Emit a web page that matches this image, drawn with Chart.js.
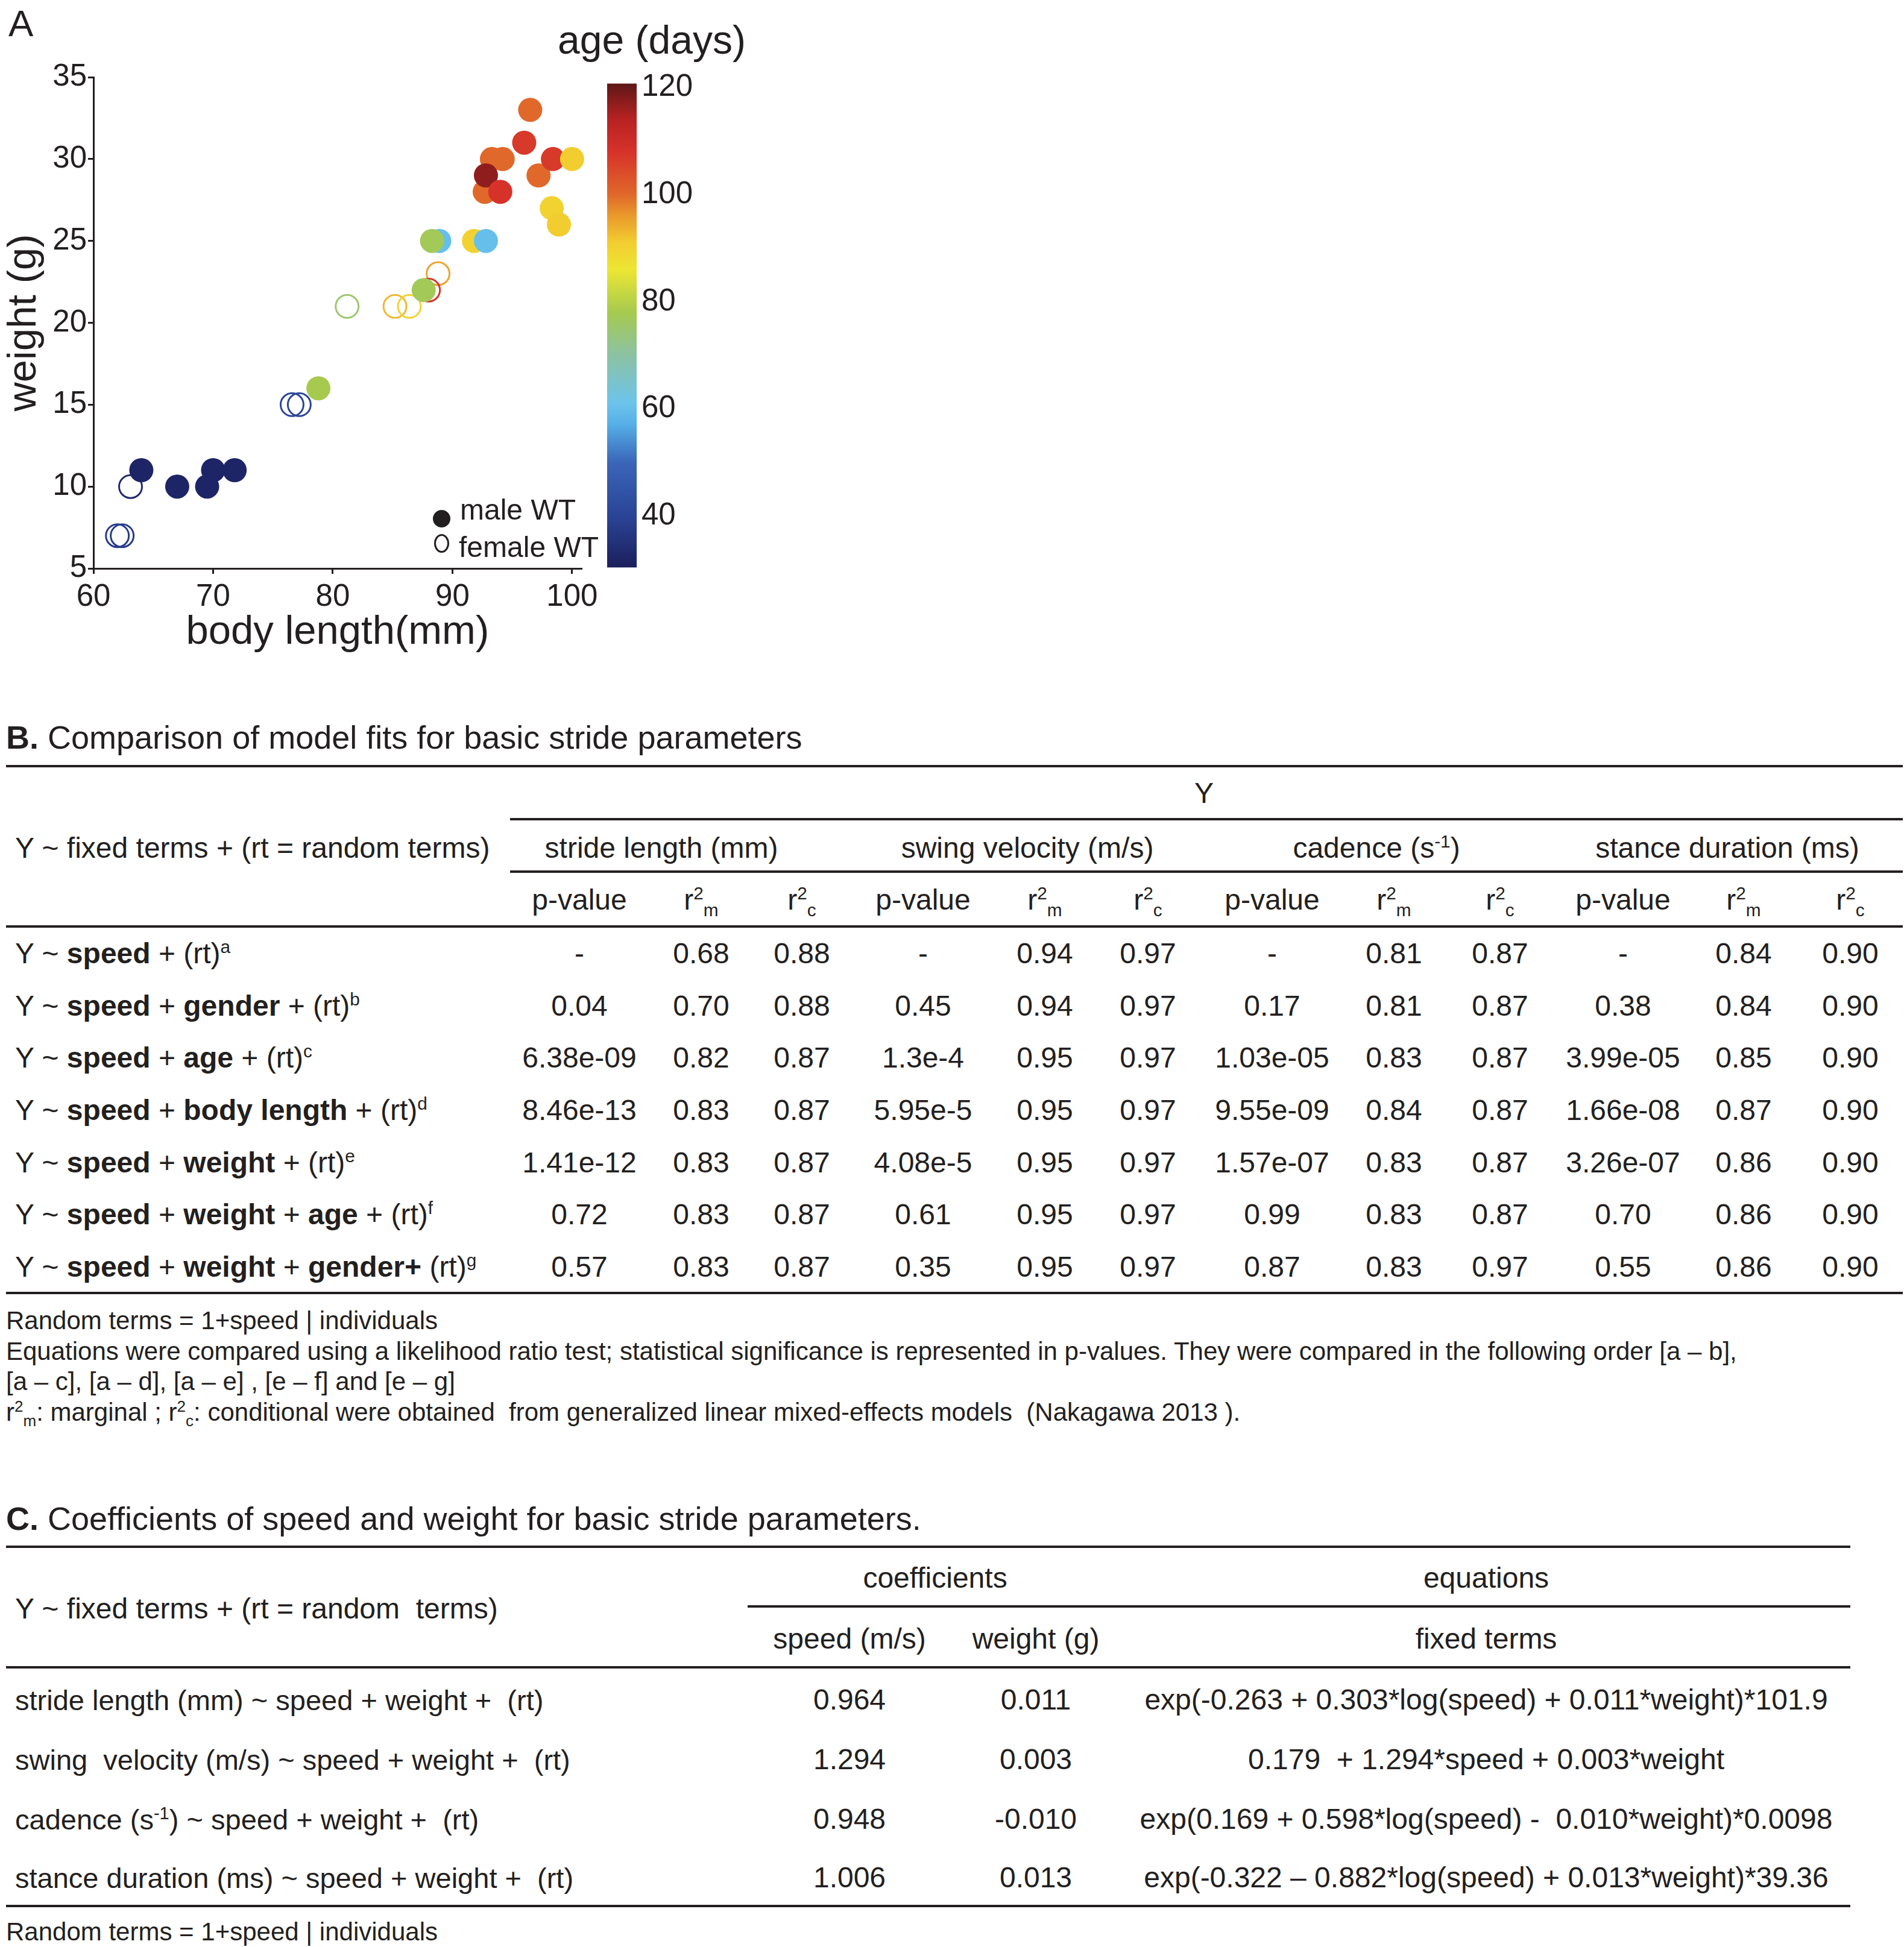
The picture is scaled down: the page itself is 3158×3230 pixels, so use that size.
<!DOCTYPE html>
<html>
<head>
<meta charset="utf-8">
<script src="https://cdn.jsdelivr.net/npm/chart.js@4.4.1/dist/chart.umd.min.js"></script>
<style>
  body { margin: 0; background: #fff; font-family: "Liberation Sans", Arial, sans-serif; color: #231f20; }
  #page { position: relative; width: 3158px; height: 3230px; overflow: hidden; }
  .abs { position: absolute; white-space: pre; line-height: 1; }
  .c { transform: translate(-50%, -50%); }
  .l { transform: translate(0, -50%); }
  .rule { position: absolute; height: 4px; background: #231f20; }
  sup, sub { font-size: 0.62em; line-height: 0; }
  canvas { position: absolute; }
</style>
</head>
<body>
<div id="page">
  <div class="abs" style="left:14px;top:8px;font-size:62px;">A</div>
  <div class="abs c" style="left:1081px;top:66px;font-size:66px;">age (days)</div>
  <canvas id="scatter" width="1000" height="1100" style="left:0;top:0"></canvas>
  <canvas id="colorbar" width="220" height="880" style="left:1000px;top:100px"></canvas>
  <div style="position:absolute;left:718px;top:846px;width:29px;height:29px;border-radius:50%;background:#231f20"></div>
  <div style="position:absolute;left:720px;top:886px;width:19px;height:25px;border-radius:50%;border:3px solid #231f20"></div>
  <div class="abs l" style="left:763px;top:846px;font-size:48px;">male WT</div>
  <div class="abs l" style="left:761px;top:908px;font-size:48px;">female WT</div>
</div>
<script>
// scatter: body length (mm), weight (g), age (days)
const maleLength = [64, 67, 69.5, 70, 71.8, 78.8, 87.6, 88.9, 88.3, 91.8, 92.8, 92.7, 93.3, 94.2, 92.8, 94, 96, 96.5, 97.2, 98.4, 100, 98.3, 98.9];
const maleWeight = [11, 10, 10, 11, 11, 16, 22, 25, 25, 25, 25, 28, 30, 30, 29, 28, 31, 33, 29, 30, 30, 27, 26];
const maleAge = [32, 32, 32, 32, 32, 78, 77, 60, 77, 90, 60, 100, 100, 100, 117, 108, 107, 100, 100, 107, 91, 90, 91];

const femaleLength = [62, 62.4, 63.1, 76.6, 77.2, 81.2, 85.2, 86.4, 88.8, 88.0];
const femaleWeight = [7, 7, 10, 15, 15, 21, 21, 21, 23, 22];
const femaleAge = [38, 38, 33, 40, 40, 75, 93, 90, 95, 108];

const ageTicks = [40, 60, 80, 100, 120];
const ageMin = 30.4, ageMax = 120.7;

// table B
const modelLabels = [
  'Y ~ <b>speed</b> + (rt)<sup>a</sup>',
  'Y ~ <b>speed</b> + <b>gender</b> + (rt)<sup>b</sup>',
  'Y ~ <b>speed</b> + <b>age</b> + (rt)<sup>c</sup>',
  'Y ~ <b>speed</b> + <b>body length</b> + (rt)<sup>d</sup>',
  'Y ~ <b>speed</b> + <b>weight</b> + (rt)<sup>e</sup>',
  'Y ~ <b>speed</b> + <b>weight</b> + <b>age</b> + (rt)<sup>f</sup>',
  'Y ~ <b>speed</b> + <b>weight</b> + <b>gender+</b> (rt)<sup>g</sup>'
];
const outcomes = ['stride length (mm)', 'swing velocity (m/s)', 'cadence (s<sup>-1</sup>)', 'stance duration (ms)'];
const strideP = ['-', '0.04', '6.38e-09', '8.46e-13', '1.41e-12', '0.72', '0.57'];
const strideRm = [0.68, 0.70, 0.82, 0.83, 0.83, 0.83, 0.83];
const strideRc = [0.88, 0.88, 0.87, 0.87, 0.87, 0.87, 0.87];
const swingP = ['-', '0.45', '1.3e-4', '5.95e-5', '4.08e-5', '0.61', '0.35'];
const swingRm = [0.94, 0.94, 0.95, 0.95, 0.95, 0.95, 0.95];
const swingRc = [0.97, 0.97, 0.97, 0.97, 0.97, 0.97, 0.97];
const cadenceP = ['-', '0.17', '1.03e-05', '9.55e-09', '1.57e-07', '0.99', '0.87'];
const cadenceRm = [0.81, 0.81, 0.83, 0.84, 0.83, 0.83, 0.83];
const cadenceRc = [0.87, 0.87, 0.87, 0.87, 0.87, 0.87, 0.97];
const stanceP = ['-', '0.38', '3.99e-05', '1.66e-08', '3.26e-07', '0.70', '0.55'];
const stanceRm = [0.84, 0.84, 0.85, 0.87, 0.86, 0.86, 0.86];
const stanceRc = [0.90, 0.90, 0.90, 0.90, 0.90, 0.90, 0.90];
const notesB = [
  'Random terms = 1+speed | individuals',
  'Equations were compared using a likelihood ratio test; statistical significance is represented in p-values. They were compared in the following order [a \u2013 b],',
  '[a \u2013 c], [a \u2013 d], [a \u2013 e] , [e \u2013 f] and [e \u2013 g]',
  'r<sup>2</sup><sub>m</sub>: marginal ; r<sup>2</sup><sub>c</sub>: conditional were obtained  from generalized linear mixed-effects models  (Nakagawa 2013 ).'
];

// table C
const coefLabels = [
  'stride length (mm) ~ speed + weight +  (rt)',
  'swing  velocity (m/s) ~ speed + weight +  (rt)',
  'cadence (s<sup>-1</sup>) ~ speed + weight +  (rt)',
  'stance duration (ms) ~ speed + weight +  (rt)'
];
const speedCoef = ['0.964', '1.294', '0.948', '1.006'];
const weightCoef = ['0.011', '0.003', '-0.010', '0.013'];
const equations = [
  'exp(-0.263 + 0.303*log(speed) + 0.011*weight)*101.9',
  '0.179  + 1.294*speed + 0.003*weight',
  'exp(0.169 + 0.598*log(speed) -  0.010*weight)*0.0098',
  'exp(-0.322 \u2013 0.882*log(speed) + 0.013*weight)*39.36'
];

// colour map (age in days -> colour)
const cmap = [
  [30, '#1a1d5a'], [40, '#2b4496'], [50, '#3a66b8'], [57, '#55aee6'], [61, '#6cc4ec'],
  [70, '#8cc2a4'], [78, '#a6ca4e'], [86, '#ede634'], [91, '#f2cd30'], [96, '#e99a2c'],
  [100, '#e0682a'], [108, '#d6322a'], [114, '#b82222'], [121, '#5a1616']
];
function hex(h) { return [1, 3, 5].map(i => parseInt(h.substr(i, 2), 16)); }
function ageColor(v) {
  if (v <= cmap[0][0]) return cmap[0][1];
  for (let i = 1; i < cmap.length; i++) {
    if (v <= cmap[i][0]) {
      const t = (v - cmap[i - 1][0]) / (cmap[i][0] - cmap[i - 1][0]);
      const a = hex(cmap[i - 1][1]), b = hex(cmap[i][1]);
      return 'rgb(' + a.map((c, k) => Math.round(c + (b[k] - c) * t)).join(',') + ')';
    }
  }
  return cmap[cmap.length - 1][1];
}

const ink = '#231f20';
Chart.defaults.font.family = '"Liberation Sans", Arial, sans-serif';
Chart.defaults.color = ink;

new Chart(document.getElementById('scatter'), {
  type: 'scatter',
  data: {
    datasets: [
      {
        label: 'male WT',
        data: maleLength.map((x, i) => ({ x: x, y: maleWeight[i] })),
        pointBackgroundColor: maleAge.map(ageColor),
        pointBorderColor: maleAge.map(ageColor),
        pointBorderWidth: 0,
        pointRadius: 20
      },
      {
        label: 'female WT',
        data: femaleLength.map((x, i) => ({ x: x, y: femaleWeight[i] })),
        pointBackgroundColor: 'rgba(255,255,255,0)',
        pointBorderColor: femaleAge.map(ageColor),
        pointBorderWidth: 3,
        pointRadius: 19
      }
    ]
  },
  options: {
    responsive: false,
    animation: false,
    clip: false,
    layout: { autoPadding: false, padding: { top: 128, right: 31, left: 0, bottom: 0 } },
    plugins: { legend: { display: false }, tooltip: { enabled: false } },
    scales: {
      x: {
        type: 'linear', min: 60, max: 100.8,
        ticks: { stepSize: 10, includeBounds: false, font: { size: 51 }, color: ink, padding: 8 },
        grid: { drawOnChartArea: false, drawTicks: true, tickLength: 9, color: ink, lineWidth: 3 },
        border: { display: true, color: ink, width: 3 },
        title: { display: true, text: 'body length(mm)', font: { size: 67 }, color: ink, padding: { top: 0, bottom: 10 } },
        afterFit: s => { s.height = 157; }
      },
      y: {
        min: 5, max: 35,
        ticks: { stepSize: 5, font: { size: 51 }, color: ink, padding: 2 },
        grid: { drawOnChartArea: false, drawTicks: true, tickLength: 9, color: ink, lineWidth: 3 },
        border: { display: true, color: ink, width: 3 },
        title: { display: true, text: 'weight (g)', font: { size: 67 }, color: ink, padding: { top: 0, bottom: 0 } },
        afterFit: s => { s.width = 155; }
      }
    }
  }
});

// colour bar
new Chart(document.getElementById('colorbar'), {
  type: 'bar',
  data: {
    labels: ['age'],
    datasets: [{
      data: [[ageMin, ageMax]],
      barPercentage: 1,
      categoryPercentage: 1,
      borderWidth: 0,
      backgroundColor: ctx => {
        const chart = ctx.chart;
        if (!chart.chartArea) return '#888';
        const ys = chart.scales.y;
        const g = chart.ctx.createLinearGradient(0, ys.getPixelForValue(ageMin), 0, ys.getPixelForValue(ageMax));
        g.addColorStop(0, ageColor(ageMin));
        cmap.forEach(([v, c]) => {
          const t = (v - ageMin) / (ageMax - ageMin);
          if (t > 0 && t < 1) g.addColorStop(t, c);
        });
        g.addColorStop(1, ageColor(ageMax));
        return g;
      }
    }]
  },
  options: {
    responsive: false,
    animation: false,
    layout: { autoPadding: false, padding: { top: 28, left: 7, bottom: 37, right: 0 } },
    plugins: { legend: { display: false }, tooltip: { enabled: false } },
    scales: {
      x: { display: false },
      y: {
        position: 'right', min: ageMin, max: ageMax,
        afterBuildTicks: s => { s.ticks = ageTicks.map(v => ({ value: v })); },
        ticks: { font: { size: 51 }, color: ink, padding: 8 },
        grid: { display: false, drawTicks: false },
        border: { display: false },
        afterFit: s => { s.width = 164; }
      }
    }
  }
});

// tables as positioned text
const page = document.getElementById('page');
function put(html, x, y, size, align) {
  const d = document.createElement('div');
  d.className = 'abs ' + (align === 'l' ? 'l' : 'c');
  d.style.left = x + 'px';
  d.style.top = y + 'px';
  d.style.fontSize = size + 'px';
  d.innerHTML = html;
  page.appendChild(d);
}
function rule(x1, x2, y) {
  const d = document.createElement('div');
  d.className = 'rule';
  d.style.left = x1 + 'px';
  d.style.width = (x2 - x1) + 'px';
  d.style.top = (y - 2) + 'px';
  page.appendChild(d);
}

// B
const fs = 48;
put('<b>B.</b> Comparison of model fits for basic stride parameters', 10, 1223, 54, 'l');
rule(10, 3156, 1271);
put('Y', 1997, 1316, fs);
rule(846, 3156, 1359);
put('Y ~ fixed terms + (rt = random terms)', 25, 1407, fs, 'l');
const groupX = [1097, 1704, 2283, 2865];
outcomes.forEach((o, i) => put(o, groupX[i], 1407, fs));
rule(846, 3156, 1446);
const colX = [961, 1163, 1330, 1531, 1733, 1904, 2110, 2312, 2488, 2692, 2892, 3069];
const subHead = ['p-value', 'r<sup>2</sup><sub>m</sub>', 'r<sup>2</sup><sub>c</sub>'];
colX.forEach((x, i) => put(subHead[i % 3], x, 1493, fs));
rule(10, 3156, 1537);
const rowY = [1582, 1669, 1755, 1842, 1929, 2015, 2102];
const cols = [strideP, strideRm, strideRc, swingP, swingRm, swingRc, cadenceP, cadenceRm, cadenceRc, stanceP, stanceRm, stanceRc];
modelLabels.forEach((lab, r) => {
  put(lab, 25, rowY[r], fs, 'l');
  cols.forEach((col, c) => {
    const v = col[r];
    put(typeof v === 'number' ? v.toFixed(2) : v, colX[c], rowY[r], fs);
  });
});
rule(10, 3156, 2145);
const noteY = [2191, 2242, 2292, 2343];
notesB.forEach((n, i) => put(n, 10, noteY[i], 42, 'l'));

// C
put('<b>C.</b> Coefficients of speed and weight for basic stride parameters.', 10, 2519, 54, 'l');
rule(10, 3069, 2566);
put('coefficients', 1551, 2618, fs);
put('equations', 2465, 2618, fs);
put('Y ~ fixed terms + (rt = random  terms)', 25, 2669, fs, 'l');
rule(1240, 3069, 2665);
put('speed (m/s)', 1409, 2719, fs);
put('weight (g)', 1718, 2719, fs);
put('fixed terms', 2465, 2719, fs);
rule(10, 3069, 2766);
const rowYC = [2820, 2919, 3018, 3115];
coefLabels.forEach((lab, r) => {
  put(lab, 25, rowYC[r], 47, 'l');
  put(speedCoef[r], 1409, rowYC[r], fs);
  put(weightCoef[r], 1718, rowYC[r], fs);
  put(equations[r], 2465, rowYC[r], fs);
});
rule(10, 3069, 3162);
put('Random terms = 1+speed | individuals', 10, 3205, 42, 'l');
</script>
</body>
</html>
